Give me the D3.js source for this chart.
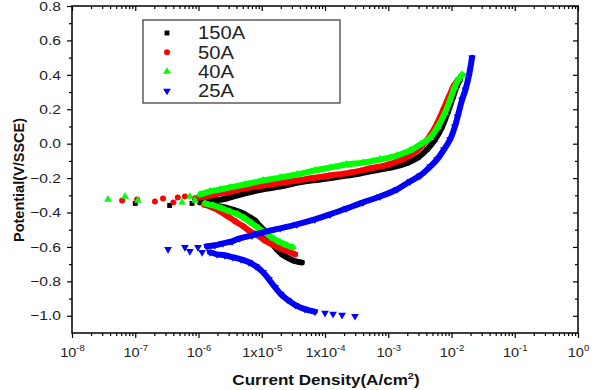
<!DOCTYPE html>
<html>
<head>
<meta charset="utf-8">
<script src="https://cdn.jsdelivr.net/npm/d3@7"></script>
<style>
  body { margin: 0; background: #fff; }
  text { font-family: 'Liberation Sans', Arial, sans-serif; }
</style>
</head>
<body>
<div id="chart"></div>
<script>
// [current density (A/cm2), potential (V/SSCE)]
const cath150 = [[4.3e-5, -0.69], [3.4e-5, -0.683], [2.5e-5, -0.66], [2.1e-5, -0.643], [1.74e-5, -0.614], [1.45e-5, -0.579], [1.21e-5, -0.538], [1.05e-5, -0.498], [9.4e-6, -0.48], [7.8e-6, -0.446], [6.5e-6, -0.428], [5.1e-6, -0.405], [3.8e-6, -0.388], [2.6e-6, -0.37], [1.8e-6, -0.359], [1.27e-6, -0.353]];
const near150 = [[7.9e-7, -0.347], [3.5e-7, -0.359], [1.0e-7, -0.347]];
const anod150 = [[1.06e-6, -0.341], [1.6e-6, -0.33], [2.35e-6, -0.324], [3.2e-6, -0.312], [5.4e-6, -0.289], [1.0e-5, -0.266], [1.95e-5, -0.249], [4.0e-5, -0.225], [8.3e-5, -0.208], [1.73e-4, -0.191], [3.6e-4, -0.173], [7.4e-4, -0.15], [1.28e-3, -0.133], [2.05e-3, -0.11], [2.95e-3, -0.081], [4.1e-3, -0.034], [5.5e-3, 0.024], [7.1e-3, 0.099], [8.8e-3, 0.186], [1.06e-2, 0.273], [1.22e-2, 0.336], [1.36e-2, 0.371]];

const cath50 = [[3.36e-5, -0.643], [2.6e-5, -0.625], [1.95e-5, -0.608], [1.45e-5, -0.585], [1.12e-5, -0.562], [8.7e-6, -0.533], [6.5e-6, -0.509], [5.1e-6, -0.48], [3.8e-6, -0.451], [2.9e-6, -0.422], [2.2e-6, -0.394], [1.63e-6, -0.37], [1.22e-6, -0.353]];
const near50 = [[6.1e-7, -0.307], [4.7e-7, -0.312], [4.0e-7, -0.341], [2.75e-7, -0.318], [2.05e-7, -0.336], [1.07e-7, -0.324], [6.2e-8, -0.33]];
const anod50 = [[8.8e-7, -0.318], [1.27e-6, -0.307], [1.82e-6, -0.295], [3.2e-6, -0.278], [6.5e-6, -0.254], [1.35e-5, -0.237], [2.8e-5, -0.22], [5.8e-5, -0.202], [1.2e-4, -0.185], [2.5e-4, -0.168], [5.1e-4, -0.144], [1.0e-3, -0.121], [1.65e-3, -0.092], [2.46e-3, -0.057], [3.4e-3, -0.011], [4.6e-3, 0.047], [5.9e-3, 0.116], [7.3e-3, 0.192], [9.1e-3, 0.273], [1.09e-2, 0.336], [1.27e-2, 0.371]];

const cath40 = [[3.1e-5, -0.602], [2.5e-5, -0.59], [1.95e-5, -0.573], [1.5e-5, -0.55], [1.17e-5, -0.521], [9.0e-6, -0.492], [7.0e-6, -0.463], [5.4e-6, -0.434], [4.2e-6, -0.411], [3.15e-6, -0.394], [2.35e-6, -0.376], [1.7e-6, -0.359], [1.27e-6, -0.347]];
const near40 = [[3.7e-8, -0.324], [6.9e-8, -0.307], [1.1e-7, -0.33], [5.5e-7, -0.341], [7.3e-7, -0.307], [8.8e-7, -0.33]];
const anod40 = [[1.06e-6, -0.295], [1.52e-6, -0.278], [2.2e-6, -0.266], [3.15e-6, -0.254], [5.4e-6, -0.237], [1.05e-5, -0.214], [1.95e-5, -0.197], [3.6e-5, -0.179], [6.9e-5, -0.156], [1.2e-4, -0.139], [2.2e-4, -0.121], [4.0e-4, -0.11], [7.4e-4, -0.092], [1.37e-3, -0.069], [2.2e-3, -0.04], [3.2e-3, -0.005], [4.6e-3, 0.035], [6.1e-3, 0.099], [7.9e-3, 0.18], [9.5e-3, 0.255], [1.13e-2, 0.331], [1.31e-2, 0.377], [1.47e-2, 0.4]];

const cath25 = [[6.9e-5, -0.976], [4.8e-5, -0.961], [3.4e-5, -0.938], [2.6e-5, -0.909], [2.0e-5, -0.874], [1.62e-5, -0.834], [1.3e-5, -0.788], [1.05e-5, -0.747], [8.1e-6, -0.712], [6.3e-6, -0.689], [4.7e-6, -0.672], [3.5e-6, -0.66], [2.6e-6, -0.648], [1.96e-6, -0.643], [1.52e-6, -0.631]];
const near25 = [[2.98e-4, -1.002], [1.86e-4, -0.996], [1.34e-4, -0.99], [1.0e-4, -0.984], [1.14e-6, -0.631], [9.8e-7, -0.602], [7.3e-7, -0.625], [6.1e-7, -0.602], [3.3e-7, -0.614]];
const anod25 = [[1.36e-6, -0.596], [1.82e-6, -0.59], [2.44e-6, -0.579], [3.4e-6, -0.567], [4.5e-6, -0.55], [7.0e-6, -0.533], [1.05e-5, -0.515], [1.95e-5, -0.492], [3.6e-5, -0.469], [6.9e-5, -0.44], [1.2e-4, -0.411], [2.2e-4, -0.376], [4.0e-4, -0.341], [7.4e-4, -0.307], [1.37e-3, -0.266], [2.2e-3, -0.22], [3.2e-3, -0.185], [4.6e-3, -0.133], [5.9e-3, -0.092], [7.6e-3, -0.034], [9.5e-3, 0.024], [1.13e-2, 0.099], [1.25e-2, 0.157], [1.47e-2, 0.255], [1.66e-2, 0.313], [1.88e-2, 0.394], [2.11e-2, 0.499]];

const seriesNames = ['150A', '50A', '40A', '25A'];
const seriesColors = ['#000000', '#ff0000', '#00ff00', '#0000ff'];
const yTicks = [-1.0, -0.8, -0.6, -0.4, -0.2, 0.0, 0.2, 0.4, 0.6, 0.8];
const yMinor = [-0.9, -0.7, -0.5, -0.3, -0.1, 0.1, 0.3, 0.5, 0.7];
const xTickExp = [-8, -7, -6, -5, -4, -3, -2, -1, 0];
const xTickBase = ['10', '10', '10', '1x10', '1x10', '10', '10', '10', '10'];

const series = [
  { branches: [cath150, anod150], near: near150 },
  { branches: [cath50, anod50], near: near50 },
  { branches: [cath40, anod40], near: near40 },
  { branches: [cath25, anod25], near: near25 },
];

const width = 594;
const height = 390;
const m = { left: 72, right: 578, top: 6, bottom: 333 };

const svg = d3.select('#chart').append('svg')
  .attr('width', width).attr('height', height);

const x = d3.scaleLog().domain([1e-8, 1]).range([m.left, m.right]);
const y = d3.scaleLinear().domain([-1.1, 0.8]).range([m.bottom, m.top]);

const xMajor = xTickExp.map((e) => Math.pow(10, e));
const xMinor = [];
xTickExp.slice(0, -1).forEach((e) => {
  for (let k = 2; k < 10; k++) xMinor.push(k * Math.pow(10, e));
});

const noLabel = () => '';
const styleAxis = (g) => {
  g.select('.domain').remove();
  g.selectAll('line').attr('stroke', '#000').attr('stroke-width', 1.2);
};

// bottom axis
svg.append('g').attr('transform', `translate(0,${m.bottom})`)
  .call(d3.axisBottom(x).tickValues(xMinor).tickSize(3).tickFormat(noLabel)).call(styleAxis);
const bottom = svg.append('g').attr('transform', `translate(0,${m.bottom})`)
  .call(d3.axisBottom(x).tickValues(xMajor).tickSize(5).tickPadding(14).tickFormat(noLabel))
  .call(styleAxis);
bottom.selectAll('.tick text').each(function (d, i) {
  const t = d3.select(this)
    .attr('fill', '#222').attr('font-size', 13).attr('dy', '0.35em')
    .attr('transform', 'scale(1.12,1)');
  t.append('tspan').text(xTickBase[i]);
  t.append('tspan').attr('font-size', 8.5).attr('dy', -6).text(xTickExp[i]);
});

// top axis, ticks inward
svg.append('g').attr('transform', `translate(0,${m.top})`)
  .call(d3.axisBottom(x).tickValues(xMinor).tickSize(3).tickFormat(noLabel)).call(styleAxis);
svg.append('g').attr('transform', `translate(0,${m.top})`)
  .call(d3.axisBottom(x).tickValues(xMajor).tickSize(5).tickFormat(noLabel)).call(styleAxis);

// left axis
svg.append('g').attr('transform', `translate(${m.left},0)`)
  .call(d3.axisLeft(y).tickValues(yMinor).tickSize(3).tickFormat(noLabel)).call(styleAxis);
svg.append('g').attr('transform', `translate(${m.left},0)`)
  .call(d3.axisLeft(y).tickValues(yTicks).tickSize(5).tickPadding(6).tickFormat(d3.format('.1f')))
  .call(styleAxis)
  .selectAll('.tick text')
  .attr('fill', '#222').attr('font-size', 13)
  .attr('x', -11 / 1.2)
  .attr('transform', 'scale(1.2,1)');

// right axis, ticks inward
svg.append('g').attr('transform', `translate(${m.right},0)`)
  .call(d3.axisLeft(y).tickValues(yMinor).tickSize(3).tickFormat(noLabel)).call(styleAxis);
svg.append('g').attr('transform', `translate(${m.right},0)`)
  .call(d3.axisLeft(y).tickValues(yTicks).tickSize(5).tickFormat(noLabel)).call(styleAxis);

svg.selectAll('.tick text').attr('font-family', "'Liberation Sans', Arial, sans-serif");

// frame
svg.append('rect')
  .attr('x', m.left).attr('y', m.top)
  .attr('width', m.right - m.left).attr('height', m.bottom - m.top)
  .attr('fill', 'none').attr('stroke', '#000').attr('stroke-width', 1.5);

const symbols = [
  d3.symbol().type(d3.symbolSquare).size(24),
  d3.symbol().type(d3.symbolCircle).size(28),
  d3.symbol().type(d3.symbolTriangle).size(26),
  d3.symbol().type(d3.symbolTriangle).size(26),
];
const rot = [0, 0, 0, 180];

const line = d3.line()
  .x((d) => x(d[0]))
  .y((d) => y(d[1]))
  .curve(d3.curveCatmullRom);

const plot = svg.append('g');
series.forEach((s, k) => {
  const g = plot.append('g');
  s.branches.forEach((b) => {
    g.append('path')
      .attr('d', line(b))
      .attr('fill', 'none')
      .attr('stroke', seriesColors[k])
      .attr('stroke-width', 6)
      .attr('stroke-linecap', 'round')
      .attr('stroke-linejoin', 'round');
  });
  const pts = s.branches.flat().concat(s.near);
  g.selectAll('path.pt')
    .data(pts)
    .enter()
    .append('path')
    .attr('class', 'pt')
    .attr('d', symbols[k])
    .attr('transform', (d) => `translate(${x(d[0])},${y(d[1])}) rotate(${rot[k]})`)
    .attr('fill', seriesColors[k]);
});

// legend
const legend = svg.append('g');
legend.append('rect')
  .attr('x', 143).attr('y', 20).attr('width', 197).attr('height', 83)
  .attr('fill', '#fff').attr('stroke', '#333').attr('stroke-width', 1.2);
seriesNames.forEach((name, k) => {
  const ly = 33 + k * 19.3;
  legend.append('path')
    .attr('d', symbols[k])
    .attr('transform', `translate(167,${ly}) rotate(${rot[k]})`)
    .attr('fill', seriesColors[k]);
  legend.append('text')
    .attr('transform', `translate(198,${ly}) scale(1.12,1)`)
    .attr('dy', '0.36em')
    .attr('font-size', 18).attr('fill', '#222')
    .text(name);
});

// axis titles
const xTitle = svg.append('text')
  .attr('transform', 'translate(326,385) scale(1.22,1)')
  .attr('text-anchor', 'middle')
  .attr('font-size', 14).attr('font-weight', 'bold').attr('fill', '#111');
xTitle.append('tspan').text('Current Density(A/cm');
xTitle.append('tspan').attr('font-size', 9).attr('dy', -6).text('2');
xTitle.append('tspan').attr('dy', 6).text(')');

svg.append('text')
  .attr('transform', 'translate(24,180) rotate(-90)')
  .attr('text-anchor', 'middle')
  .attr('font-size', 14.5).attr('font-weight', 'bold').attr('fill', '#111')
  .text('Potential(V/SSCE)');
</script>
</body>
</html>
